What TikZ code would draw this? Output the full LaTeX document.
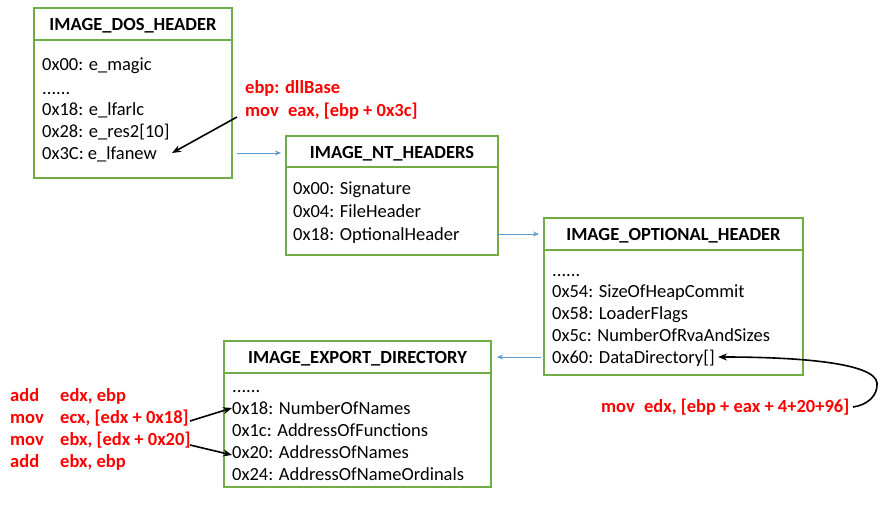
\documentclass[tikz,border=0pt]{standalone}
\usepackage{fontspec}
\setmainfont{Carlito}
\usetikzlibrary{arrows.meta,calc}
\definecolor{boxgreen}{RGB}{112,173,71}
\definecolor{linkblue}{RGB}{91,155,213}
\begin{document}
\begin{tikzpicture}[x=1pt,y=-1pt,
  every node/.style={font=\fontsize{18.5}{22}\selectfont},
  hdr/.style={draw=boxgreen, line width=2pt, inner sep=0pt, outer sep=0pt, font=\fontsize{18.5}{22}\selectfont\bfseries},
  hdrtxt/.style={inner sep=0pt, yshift=-2pt, font=\fontsize{18.5}{22}\selectfont\bfseries},
  bodybox/.style={draw=boxgreen, line width=2pt, inner sep=0pt, outer sep=0pt},
  field/.style={anchor=west, inner sep=0pt, text height=0.7em, text depth=0.22em, yshift=-3.5pt},
  codetxt/.style={field, text=red, font=\fontsize{18.5}{22}\selectfont\bfseries},
  blink/.style={draw=linkblue, line width=0.9pt, -{Stealth[length=6pt,width=5pt]}},
  plink/.style={draw=black, line width=1.6pt, -{Stealth[length=9pt,width=7pt]}}]
\fill[white] (0,0) rectangle (889,508);
\useasboundingbox (0,0) rectangle (889,508);

% IMAGE_DOS_HEADER
\node[hdr, minimum width=198pt, minimum height=32pt] (dosh) at (133,24) {};
\node[hdrtxt] (dost) at (dosh.center) {IMAGE\_DOS\_HEADER};
\node[bodybox, minimum width=198pt, minimum height=138pt] (dosb) at (133,109) {};
\node[field] (d1) at (42,65) {0x00: e\_magic};
\node[field] (d2) at (42,89) {......};
\node[field] (d3) at (42,110) {0x18: e\_lfarlc};
\node[field] (d4) at (42,132) {0x28: e\_res2[10]};
\node[field] (d5) at (42,154) {0x3C: e\_lfanew};

% IMAGE_NT_HEADERS
\node[hdr, minimum width=212pt, minimum height=31pt] (nth) at (392,151.5) {};
\node[hdrtxt] (ntt) at (nth.center) {IMAGE\_NT\_HEADERS};
\node[bodybox, minimum width=212pt, minimum height=88pt] (ntb) at (392,211) {};
\node[field] (n1) at (293,189) {0x00: Signature};
\node[field] (n2) at (293,212) {0x04: FileHeader};
\node[field] (n3) at (293,235) {0x18: OptionalHeader};

% IMAGE_OPTIONAL_HEADER
\node[hdr, minimum width=259pt, minimum height=32pt] (oph) at (673.5,234) {};
\node[hdrtxt] (opt) at (oph.center) {IMAGE\_OPTIONAL\_HEADER};
\node[bodybox, minimum width=259pt, minimum height=125pt] (opb) at (673.5,312.5) {};
\node[field] (o1) at (552,271) {......};
\node[field] (o2) at (552,292) {0x54: SizeOfHeapCommit};
\node[field] (o3) at (552,314) {0x58: LoaderFlags};
\node[field] (o4) at (552,336) {0x5c: NumberOfRvaAndSizes};
\node[field] (o5) at (552,358) {0x60: DataDirectory[]};

% IMAGE_EXPORT_DIRECTORY
\node[hdr, minimum width=267pt, minimum height=32pt] (exh) at (357.5,357) {};
\node[hdrtxt] (ext) at (exh.center) {IMAGE\_EXPORT\_DIRECTORY};
\node[bodybox, minimum width=267pt, minimum height=114pt] (exb) at (357.5,430) {};
\node[field] (e1) at (232,387) {......};
\node[field] (e2) at (232,409) {0x18: NumberOfNames};
\node[field] (e3) at (232,431) {0x1c: AddressOfFunctions};
\node[field] (e4) at (232,453) {0x20: AddressOfNames};
\node[field] (e5) at (232,475) {0x24: AddressOfNameOrdinals};

% red code
\node[codetxt] (r1) at (245,88) {ebp: dllBase};
\node[codetxt] (r2) at (245,111) {mov\enspace eax, [ebp + 0x3c]};
\node[codetxt] (m1) at (10,396) {add};
\node[codetxt] (m2) at (10,418) {mov};
\node[codetxt] (m3) at (10,440) {mov};
\node[codetxt] (m4) at (10,462) {add};
\node[codetxt] (p1) at (60,396) {edx, ebp};
\node[codetxt] (p2) at (60,418) {ecx, [edx + 0x18]};
\node[codetxt] (p3) at (60,440) {ebx, [edx + 0x20]};
\node[codetxt] (p4) at (60,462) {ebx, ebp};
\node[codetxt] (r3) at (601,407) {mov\enspace edx, [ebp + eax + 4+20+96]};

% blue links between structures
\coordinate (b1s) at (237,153);
\coordinate (b1e) at (281,153);
\draw[blink] (b1s) -- (b1e);
\coordinate (b2s) at (497,234);
\coordinate (b2e) at (539,234);
\draw[blink] (b2s) -- (b2e);
\coordinate (b3s) at (541,357);
\coordinate (b3e) at (497,357);
\draw[blink] (b3s) -- (b3e);

% black pointers
\coordinate (as) at (237,117);
\coordinate (lf) at (172,153);
\draw[plink] (as) -- (lf);
\coordinate (cs) at (853,407);
\coordinate (ct) at (877,383);
\coordinate (dd) at (718,357);
\draw[plink] (cs) .. controls (868,405) and (878,395) .. (ct)
  .. controls (875,363) and (800,357) .. (dd);
\coordinate (q1s) at (190,421);
\coordinate (q1e) at (232,408);
\coordinate (q2s) at (190,445);
\coordinate (q2e) at (232,455);
\draw[plink] (q1s) -- (q1e);
\draw[plink] (q2s) -- (q2e);
\end{tikzpicture}
\end{document}
